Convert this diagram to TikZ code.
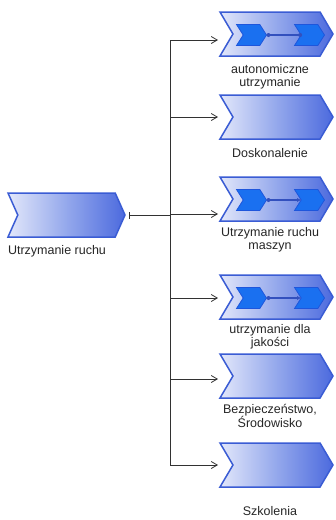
\documentclass[tikz,border=0pt]{standalone}
\usepackage{fontspec}
\setmainfont{Liberation Sans}
\usetikzlibrary{shapes.symbols,arrows.meta}
\definecolor{edgeblue}{RGB}{58,92,212}
\definecolor{lightfill}{RGB}{226,231,250}
\definecolor{midfill}{RGB}{148,168,236}
\definecolor{darkfill}{RGB}{76,106,222}
\definecolor{innerblue}{RGB}{26,112,240}
\definecolor{inneredge}{RGB}{30,86,220}
\definecolor{linkblue}{RGB}{50,80,190}
\definecolor{conncol}{RGB}{50,50,50}
\tikzset{
  chev/.style={shape=signal, signal from=west, signal to=east,
    signal pointer angle=119, minimum width=113pt, minimum height=44pt,
    inner sep=0pt, outer sep=0pt, draw=edgeblue, line width=1.5pt,
    left color=lightfill, right color=darkfill, middle color=midfill},
  mainchev/.style={chev, signal pointer angle=132, minimum width=117pt},
  innerchev/.style={shape=signal, signal from=west, signal to=east,
    signal pointer angle=115, minimum width=30pt, minimum height=21pt,
    inner sep=0pt, outer sep=0pt, draw=inneredge, line width=0.8pt, fill=innerblue},
  link/.style={draw=linkblue, line width=1.1pt},
  dot/.style={circle, fill=linkblue, inner sep=0pt, minimum size=4pt},
  lbl/.style={align=center, font=\fontsize{12.5}{13.5}\selectfont, text=black!85},
  conn/.style={draw=conncol, line width=0.9pt},
  arr/.style={conn, -{Straight Barb[length=6pt,width=7pt,line width=0.8pt]}}
}
\begin{document}
\begin{tikzpicture}[x=1pt,y=-1pt]
\useasboundingbox[fill=white] (0,0) rectangle (336,520);
% main chevron
\node[mainchev] (m) at (66.5,215) {};
\node[lbl] (mt) at (57,251) {Utrzymanie ruchu};
% right chevrons
\node[chev] (c1) at (276.5,34) {};
\node[chev] (c2) at (276.5,117) {};
\node[chev] (c3) at (276.5,199) {};
\node[chev] (c4) at (276.5,297) {};
\node[chev] (c5) at (276.5,376) {};
\node[chev] (c6) at (276.5,465) {};
\node[lbl] (t1) at (270,77) {autonomiczne\\utrzymanie};
\node[lbl] (t2) at (270,153) {Doskonalenie};
\node[lbl] (t3) at (270,240) {Utrzymanie ruchu\\maszyn};
\node[lbl] (t4) at (270,337) {utrzymanie dla\\jakości};
\node[lbl] (t5) at (270,416) {Bezpieczeństwo,\\Środowisko};
\node[lbl] (t6) at (270,511) {Szkolenia};
% inner chevrons
\foreach \c in {c1,c3,c4}{
  \node[innerchev] (\c a) at ([xshift=-25pt,yshift=-1pt]\c.center) {};
  \node[innerchev] (\c b) at ([xshift=33pt,yshift=-1pt]\c.center) {};
}
\draw[link] (c1a.east) -- (c1b.west);
\node[dot] (d1a) at ([xshift=2pt]c1a.east) {};
\node[dot] (d1b) at ([xshift=-1pt]c1b.west) {};
\draw[link,-{Latex[length=4pt,width=4pt]}] (c3a.east) -- (c3b.west);
\node[dot] (d3a) at ([xshift=2pt]c3a.east) {};
\draw[link,-{Latex[length=4pt,width=4pt]}] (c4a.east) -- (c4b.west);
\node[dot] (d4a) at ([xshift=2pt]c4a.east) {};
% connectors
\coordinate (mout) at (129,215);
\coordinate (bus) at (170,215);
\coordinate (bustop) at (170,40);
\coordinate (busbot) at (170,465);
\coordinate (in1) at (218,40);
\coordinate (in2) at (218,117);
\coordinate (in3) at (218,214);
\coordinate (in4) at (218,298);
\coordinate (in5) at (218,379);
\coordinate (in6) at (218,465);
\draw[conn,{Bar[width=7pt,line width=0.9pt]}-] (mout) -- (bus);
\draw[conn] (bustop) -- (busbot);
\foreach \i in {1,...,6}{
  \draw[arr] (bus |- in\i) -- (in\i);
}
\end{tikzpicture}
\end{document}
